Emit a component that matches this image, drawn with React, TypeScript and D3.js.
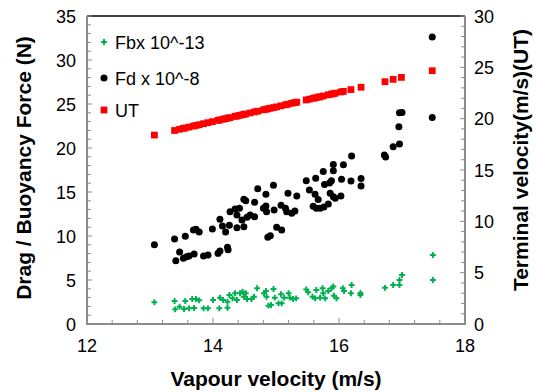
import React from "react";
import * as d3 from "d3";

// ---------- data ----------
const fbX = [13.07, 13.39, 13.4, 13.47, 13.56, 13.54, 13.62, 13.67, 13.7, 13.73, 13.78, 13.85, 13.92, 14.0, 14.1, 14.11, 14.16, 14.23, 14.23, 14.26, 14.31, 14.35, 14.38, 14.43, 14.47, 14.49, 14.52, 14.54, 14.61, 14.65, 14.7, 14.81, 14.84, 14.85, 14.88, 14.92, 14.96, 14.98, 15.04, 15.08, 15.09, 15.13, 15.2, 15.22, 15.27, 15.32, 15.48, 15.51, 15.58, 15.64, 15.62, 15.7, 15.74, 15.75, 15.78, 15.83, 15.88, 15.91, 15.92, 15.96, 16.06, 16.08, 16.2, 16.19, 16.34, 16.34, 16.73, 16.86, 16.96, 16.96, 17.0, 17.49, 17.49];
const fbY = [2.47, 2.61, 1.67, 1.97, 2.61, 1.7, 1.78, 2.84, 1.82, 2.84, 2.69, 1.78, 1.78, 2.73, 1.78, 2.99, 2.73, 2.53, 1.85, 3.3, 2.92, 3.49, 2.73, 3.49, 3.67, 3.1, 3.49, 2.84, 2.84, 3.1, 4.06, 3.49, 3.75, 3.1, 2.08, 2.16, 3.98, 2.99, 2.35, 3.38, 2.35, 2.99, 3.49, 2.99, 2.84, 2.92, 3.92, 3.6, 3.1, 3.86, 2.92, 2.99, 4.06, 3.49, 2.92, 3.75, 4.06, 4.26, 3.22, 2.92, 4.06, 3.75, 4.43, 3.49, 3.52, 3.3, 4.11, 4.43, 4.43, 5.0, 5.57, 7.84, 5.0];

const fdX = [13.07, 13.39, 13.56, 13.69, 13.73, 13.78, 13.99, 14.11, 14.15, 14.2, 14.26, 14.38, 14.49, 14.27, 14.35, 14.42, 14.49, 14.52, 14.66, 14.71, 14.84, 14.96, 14.38, 14.46, 14.54, 14.59, 14.66, 14.8, 14.84, 14.85, 14.97, 15.08, 15.15, 15.17, 15.25, 15.3, 15.19, 15.33, 15.01, 15.09, 14.87, 14.91, 13.47, 13.41, 13.53, 13.58, 13.62, 13.7, 13.85, 13.92, 14.08, 14.11, 14.23, 14.24, 15.48, 15.63, 15.75, 15.91, 15.91, 16.07, 16.2, 15.53, 15.62, 15.67, 15.59, 15.64, 15.7, 15.76, 15.83, 15.86, 15.77, 15.85, 15.88, 15.91, 15.94, 16.03, 16.04, 16.19, 16.35, 16.35, 16.72, 16.74, 16.86, 16.96, 16.95, 16.96, 17.0, 17.48, 17.48];
const fdY = [9.01, 9.66, 9.97, 10.68, 10.76, 10.45, 10.8, 11.91, 11.14, 10.45, 11.22, 10.94, 11.06, 12.76, 13.07, 13.15, 14.17, 14.01, 13.83, 15.38, 14.74, 15.76, 12.39, 11.82, 12.13, 12.39, 12.19, 13.15, 13.41, 12.76, 12.95, 13.49, 13.15, 12.76, 12.58, 12.84, 14.85, 14.55, 10.99, 10.68, 9.85, 10.03, 8.18, 7.19, 7.47, 7.65, 7.73, 7.95, 7.73, 7.84, 8.03, 8.3, 8.72, 8.44, 16.28, 16.56, 17.33, 18.13, 17.42, 18.09, 19.09, 15.23, 14.75, 14.15, 13.39, 13.15, 13.15, 13.3, 13.64, 14.85, 15.85, 16.02, 16.28, 14.47, 14.28, 14.55, 16.45, 16.25, 16.53, 15.68, 19.2, 18.98, 20.15, 20.45, 22.41, 24.01, 24.03, 23.47, 32.61];

const utX = [13.07, 13.39, 13.47, 13.53, 13.56, 13.62, 13.69, 13.73, 13.78, 13.85, 13.92, 13.99, 14.08, 14.11, 14.16, 14.2, 14.24, 14.27, 14.35, 14.38, 14.42, 14.46, 14.49, 14.52, 14.59, 14.66, 14.71, 14.8, 14.84, 14.87, 14.91, 14.96, 15.01, 15.08, 15.15, 15.19, 15.25, 15.3, 15.33, 15.48, 15.53, 15.59, 15.63, 15.67, 15.7, 15.75, 15.83, 15.88, 15.91, 15.94, 16.03, 16.07, 16.19, 16.35, 16.73, 16.86, 16.99, 17.48];
const utY = [18.4, 18.85, 18.97, 19.05, 19.1, 19.18, 19.28, 19.34, 19.41, 19.51, 19.61, 19.71, 19.83, 19.88, 19.95, 20.0, 20.06, 20.1, 20.22, 20.26, 20.32, 20.37, 20.42, 20.46, 20.56, 20.66, 20.73, 20.86, 20.91, 20.96, 21.01, 21.08, 21.15, 21.25, 21.35, 21.41, 21.5, 21.57, 21.61, 21.82, 21.9, 21.98, 22.04, 22.1, 22.13, 22.21, 22.32, 22.39, 22.43, 22.48, 22.6, 22.66, 22.83, 23.06, 23.6, 23.83, 24.02, 24.67];

const xTicks = [12, 14, 16, 18];
const yLeftTicks = [0, 5, 10, 15, 20, 25, 30, 35];
const yRightTicks = [0, 5, 10, 15, 20, 25, 30];
const legendLabels = ["Fbx 10^-13", "Fd x 10^-8", "UT"];

const W = 536;
const H = 392;
const M = { left: 87, right: 465, top: 16, bottom: 324 };
const FONT = "'Liberation Sans', Arial, sans-serif";
const GREEN = "#00b050";
const RED = "#ff0000";
const AXIS = "#8c8c8c";

export default function App() {
  const x = d3.scaleLinear().domain([12, 18]).range([M.left, M.right]);
  const yL = d3.scaleLinear().domain([0, 35]).range([M.bottom, M.top]);
  const yR = d3.scaleLinear().domain([0, 30]).range([M.bottom, M.top]);

  const cross = d3.symbol().type(d3.symbolCross).size(19)() as string;
  const square = d3.symbol().type(d3.symbolSquare).size(46)() as string;

  const xMinor = d3.range(12, 18.001, 0.4);
  const yLMinor = d3.range(0, 35.001, 1);
  const yRMinor = d3.range(0, 30.001, 1);

  const legendY = [42, 78, 110];

  return (
    <svg width={W} height={H} style={{ position: "absolute", left: 0, top: 0, background: "#fff" }} fontFamily={FONT}>
      <rect x={0} y={0} width={W} height={H} fill="#fff" />
      {/* top border */}
      <line x1={M.left} x2={M.right} y1={M.top} y2={M.top} stroke="#000" strokeWidth={1.5} />

      {/* left axis */}
      <line x1={M.left} x2={M.left} y1={M.top} y2={M.bottom} stroke={AXIS} strokeWidth={2} />
      {yLMinor.map((v) => (
        <line key={"lm" + v} x1={M.left} x2={M.left + (v % 5 === 0 ? 5 : 4)} y1={yL(v)} y2={yL(v)} stroke={AXIS} strokeWidth={1} />
      ))}
      {yLeftTicks.map((v) => (
        <text key={"lt" + v} x={76} y={yL(v) + 6.5} textAnchor="end" fontSize={18} fill="#000">{v}</text>
      ))}

      {/* right axis */}
      <line x1={M.right} x2={M.right} y1={M.top} y2={M.bottom} stroke={AXIS} strokeWidth={2} />
      {yRMinor.map((v) => (
        <line key={"rm" + v} x1={M.right} x2={M.right - (v % 5 === 0 ? 5 : 4)} y1={yR(v)} y2={yR(v)} stroke={AXIS} strokeWidth={1} />
      ))}
      {yRightTicks.map((v) => (
        <text key={"rt" + v} x={474} y={yR(v) + 6.5} textAnchor="start" fontSize={18} fill="#000">{v}</text>
      ))}

      {/* bottom axis */}
      <line x1={M.left - 1} x2={M.right + 1} y1={M.bottom} y2={M.bottom} stroke={AXIS} strokeWidth={2} />
      {xMinor.map((v, i) => (
        <line key={"xm" + i} x1={x(v)} x2={x(v)} y1={M.bottom} y2={M.bottom - (i % 5 === 0 ? 6 : 4)} stroke={AXIS} strokeWidth={1} />
      ))}
      {xTicks.map((v) => (
        <text key={"xt" + v} x={x(v)} y={352} textAnchor="middle" fontSize={18} fill="#000">{v}</text>
      ))}

      {/* titles */}
      <text x={(M.left + M.right) / 2} y={386} textAnchor="middle" fontSize={21} fontWeight="bold">Vapour velocity (m/s)</text>
      <text transform={`translate(31,168) rotate(-90)`} textAnchor="middle" fontSize={21} fontWeight="bold">Drag / Buoyancy Force (N)</text>
      <text transform={`translate(528,160) rotate(-90)`} textAnchor="middle" fontSize={21} fontWeight="bold">Terminal velocity(m/s)(UT)</text>

      {/* series */}
      <g>
        {fbX.map((v, i) => (
          <path key={"fb" + i} d={cross} transform={`translate(${x(v)},${yL(fbY[i])})`} fill={GREEN} />
        ))}
      </g>
      <g>
        {fdX.map((v, i) => (
          <circle key={"fd" + i} cx={x(v)} cy={yL(fdY[i])} r={3.5} fill="#000" />
        ))}
      </g>
      <g>
        {utX.map((v, i) => (
          <path key={"ut" + i} d={square} transform={`translate(${x(v)},${yR(utY[i])})`} fill={RED} />
        ))}
      </g>

      {/* legend */}
      <path d={cross} transform={`translate(104,${legendY[0]})`} fill={GREEN} />
      <circle cx={104} cy={legendY[1]} r={3.5} fill="#000" />
      <path d={square} transform={`translate(104,${legendY[2]})`} fill={RED} />
      {legendLabels.map((t, i) => (
        <text key={t} x={115} y={legendY[i] + 6.5} fontSize={18} fill="#000">{t}</text>
      ))}
    </svg>
  );
}
